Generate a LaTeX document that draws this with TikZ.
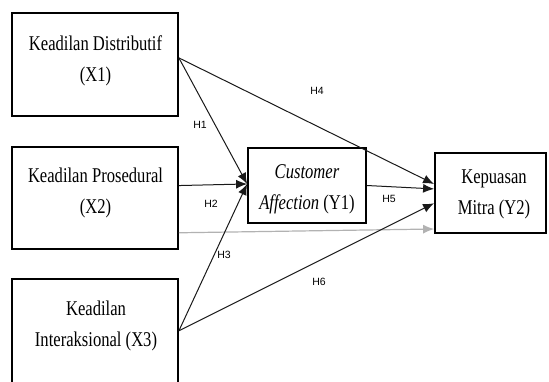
\documentclass[tikz,border=0pt]{standalone}
\usepackage{fontspec}
\setmainfont{Liberation Serif}
\newfontfamily\hsans{Liberation Sans}
\usetikzlibrary{arrows.meta,calc}
\newcommand{\boxtext}[1]{\scalebox{0.79}[1]{\fontsize{21}{31}\selectfont\begin{tabular}[t]{@{}c@{}}#1\end{tabular}}}
\begin{document}
\begin{tikzpicture}[x=1pt,y=-1pt,
  box/.style={draw=black,line width=1.8pt,fill=white,inner sep=0pt},
  txt/.style={inner sep=0pt,anchor=base},
  hyp/.style={inner sep=0pt,font=\hsans\fontsize{10.5}{12}\selectfont},
  arr/.style={draw=black!90,line width=1pt,-{Latex[length=11pt,width=9pt]}},
  garr/.style={draw=black!30,line width=1.2pt,-{Latex[length=11pt,width=9pt]}}]
\useasboundingbox (0,0) rectangle (549,381);
\clip (0,0) rectangle (549,381);
% boxes
\node[box,minimum width=166pt,minimum height=103pt] (x1) at (95,64.5) {};
\node[box,minimum width=166pt,minimum height=102pt] (x2) at (95,198) {};
\node[box,minimum width=166pt,minimum height=141pt] (x3) at (95,349.5) {};
\node[box,minimum width=118pt,minimum height=75pt] (y1) at (307,185.5) {};
\node[box,minimum width=111pt,minimum height=80pt] (y2) at (490.5,193) {};
% texts
\node[txt] (x1t) at (95.5,50) {\boxtext{Keadilan Distributif\\(X1)}};
\node[txt] (x2t) at (95.5,182) {\boxtext{Keadilan Prosedural\\(X2)}};
\node[txt] (x3t) at (96,315) {\boxtext{Keadilan\\Interaksional (X3)}};
\node[txt] (y1t) at (307,178) {\boxtext{\textit{Customer}\\\textit{Affection} (Y1)}};
\node[txt] (y2t) at (494,183) {\boxtext{Kepuasan\\Mitra (Y2)}};
% connection points
\coordinate (x1o) at ($(x1.north east)!0.437!(x1.south east)$);
\coordinate (x2o) at ($(x2.north east)!0.38!(x2.south east)$);
\coordinate (x2g) at ($(x2.north east)!0.835!(x2.south east)$);
\coordinate (x3o) at ($(x3.north east)!0.369!(x3.south east)$);
\coordinate (y1i) at ($(y1.north west)!0.48!(y1.south west)$);
\coordinate (y2a) at ($(y2.north west)!0.39!(y2.south west)$);
\coordinate (y2b) at ($(y2.north west)!0.45!(y2.south west)$);
\coordinate (y2c) at ($(y2.north west)!0.625!(y2.south west)$);
\coordinate (y2d) at ($(y2.north west)!0.94!(y2.south west)$);
% connectors
\draw[garr] (x2g) -- (y2d);
\draw[arr] (x1o) -- (y1i);
\draw[arr] (x2o) -- (y1i);
\draw[arr] (x3o) -- (y1i);
\draw[arr] (x1o) -- (y2a);
\draw[arr] (y1.east) -- (y2b);
\draw[arr] (x3o) -- (y2c);
% labels
\node[hyp] (h1) at (200,125) {H1};
\node[hyp] (h2) at (211,204) {H2};
\node[hyp] (h3) at (224,255) {H3};
\node[hyp] (h4) at (317,91) {H4};
\node[hyp] (h5) at (389,199) {H5};
\node[hyp] (h6) at (319,282) {H6};
\end{tikzpicture}
\end{document}
